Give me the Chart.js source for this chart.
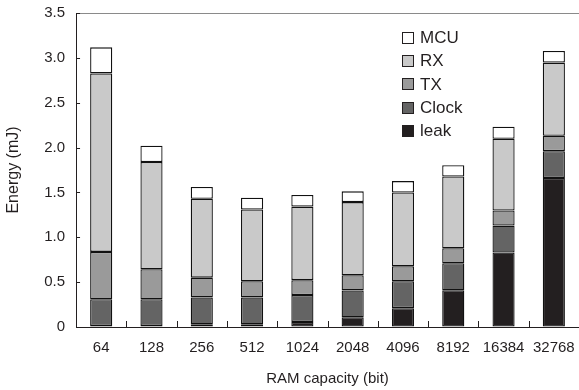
<!DOCTYPE html>
<html>
<head>
<meta charset="utf-8">
<script src="https://cdn.jsdelivr.net/npm/chart.js@4.4.1/dist/chart.umd.min.js"></script>
<style>
  html, body { margin: 0; padding: 0; background: #ffffff; }
  #wrap { width: 579px; height: 390px; position: relative; }
</style>
</head>
<body>
<div id="wrap"><canvas id="c"></canvas></div>
<script>
const categories = ['64', '128', '256', '512', '1024', '2048', '4096', '8192', '16384', '32768'];
const leak  = [0.01, 0.01, 0.03, 0.03, 0.056, 0.108, 0.21, 0.41, 0.83, 1.66];
const clock = [0.30, 0.30, 0.30, 0.30, 0.30, 0.30, 0.30, 0.30, 0.30, 0.30];
const tx    = [0.527, 0.334, 0.22, 0.18, 0.166, 0.168, 0.167, 0.167, 0.168, 0.172];
const rx    = [1.99, 1.196, 0.88, 0.80, 0.82, 0.816, 0.823, 0.80, 0.80, 0.815];
const mcu   = [0.29, 0.18, 0.13, 0.13, 0.13, 0.12, 0.126, 0.126, 0.135, 0.13];
const seriesNames = ['leak', 'Clock', 'TX', 'RX', 'MCU'];
const yTicks = [0, 0.5, 1.0, 1.5, 2.0, 2.5, 3.0, 3.5];

const FONT = '"Liberation Sans", Arial, Helvetica, sans-serif';
const INK = '#231f20';
const fills = ['#231f20', '#646464', '#9a9a9a', '#c9c9c9', '#ffffff'];
const seriesValues = [leak, clock, tx, rx, mcu];

const datasets = seriesNames.map((name, i) => ({
  label: name,
  data: seriesValues[i],
  backgroundColor: fills[i],
  borderColor: '#111111',
  borderWidth: 1.3,
  borderSkipped: false,
  barPercentage: 0.44,
  categoryPercentage: 1.0
}));

// inward tick marks on both axes
const innerTicks = {
  id: 'innerTicks',
  afterDatasetsDraw(chart) {
    const ctx = chart.ctx;
    const x = chart.scales.x, y = chart.scales.y;
    ctx.save();
    ctx.strokeStyle = INK;
    ctx.lineWidth = 1;
    ctx.beginPath();
    yTicks.forEach(v => {
      const py = Math.round(y.getPixelForValue(v)) + 0.5;
      ctx.moveTo(x.left, py);
      ctx.lineTo(x.left + 4, py);
    });
    const n = categories.length;
    for (let i = 1; i < n; i++) {
      const px = Math.round((x.getPixelForValue(i - 1) + x.getPixelForValue(i)) / 2) + 0.5;
      ctx.moveTo(px, y.bottom);
      ctx.lineTo(px, y.bottom - 6);
    }
    ctx.stroke();
    ctx.restore();
  }
};

// legend drawn inside the plot area, MCU on top
const insideLegend = {
  id: 'insideLegend',
  afterDraw(chart) {
    const ctx = chart.ctx;
    const ds = chart.data.datasets.slice().reverse();
    const x0 = 402.5, y0 = 37.5, step = 23.2, box = 11;
    ctx.save();
    ctx.font = '17px ' + FONT;
    ctx.textBaseline = 'middle';
    ctx.textAlign = 'left';
    ds.forEach((d, i) => {
      const cy = y0 + i * step;
      ctx.fillStyle = d.backgroundColor;
      ctx.fillRect(x0, Math.round(cy - box / 2) + 0.5, box, box);
      ctx.strokeStyle = INK;
      ctx.lineWidth = 1;
      ctx.strokeRect(x0, Math.round(cy - box / 2) + 0.5, box, box);
      ctx.fillStyle = INK;
      ctx.fillText(d.label, x0 + 17.5, cy + 1);
    });
    ctx.restore();
  }
};

new Chart(document.getElementById('c'), {
  type: 'bar',
  data: { labels: categories, datasets },
  options: {
    responsive: true,
    maintainAspectRatio: false,
    animation: false,
    devicePixelRatio: 1,
    layout: { padding: { left: 4, right: 0, top: 13, bottom: 2 } },
    plugins: {
      legend: { display: false },
      tooltip: { enabled: false }
    },
    scales: {
      x: {
        stacked: true,
        afterFit(scale) { scale.paddingRight = 0; },
        grid: { display: false, drawTicks: false },
        border: { display: true, color: INK, width: 1 },
        ticks: { color: INK, font: { family: FONT, size: 15 }, padding: 12, maxRotation: 0, autoSkip: false },
        title: { display: true, text: 'RAM capacity (bit)', color: INK, font: { family: FONT, size: 15 }, padding: { top: 1, bottom: 0 } }
      },
      y: {
        stacked: true,
        min: 0,
        max: 3.5,
        afterBuildTicks(scale) { scale.ticks = yTicks.map(v => ({ value: v })); },
        afterFit(scale) { scale.paddingTop = 0; scale.paddingBottom = 0; },
        grid: {
          drawTicks: false,
          color: ctx => (ctx.tick && ctx.tick.value === 3.5 ? '#8a8a8a' : 'rgba(0,0,0,0)'),
          lineWidth: 1
        },
        border: { display: true, color: INK, width: 1 },
        ticks: {
          color: INK,
          font: { family: FONT, size: 15 },
          padding: 11,
          callback: v => (v === 0 ? '0' : Number(v).toFixed(1))
        },
        title: { display: true, text: 'Energy (mJ)', color: INK, font: { family: FONT, size: 16 }, padding: { top: 0, bottom: 10 } }
      }
    }
  },
  plugins: [innerTicks, insideLegend]
});
</script>
</body>
</html>
